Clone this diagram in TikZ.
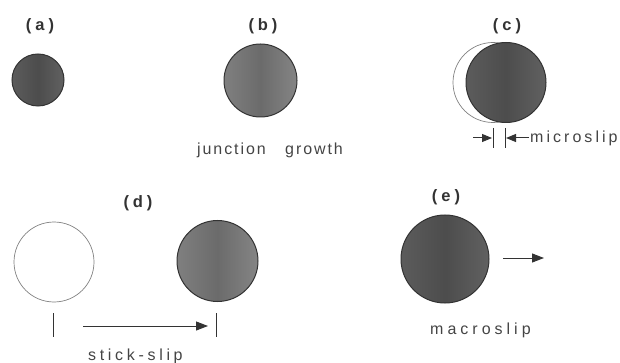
\documentclass[tikz,border=0pt]{standalone}
\usepackage{fontspec}
\setmainfont{Liberation Sans}
\usetikzlibrary{arrows.meta}
\definecolor{ink}{HTML}{333333}
\definecolor{txt}{HTML}{444444}
\tikzset{
  contact/.style={circle, draw=ink, line width=1pt, inner sep=0pt, minimum size=#1},
  ghost/.style={circle, draw=black!50, line width=0.7pt, inner sep=0pt, minimum size=#1},
  tag/.style={font=\fontsize{16.5}{16.5}\selectfont\bfseries\addfontfeature{LetterSpace=24}, text=ink, inner sep=0pt},
  caption/.style={font=\fontsize{16}{16}\selectfont\addfontfeature{LetterSpace=#1}, text=txt, inner sep=0pt},
  caption/.default=24,
  tick/.style={draw=ink, line width=0.9pt},
  mover/.style={draw=ink, line width=1pt, -{Triangle[length=12pt,width=9pt]}},
  darkfill/.style={left color=black!64, right color=black!62, middle color=black!70},
  midfill/.style={left color=black!50, right color=black!48, middle color=black!58}
}
\begin{document}
\begin{tikzpicture}[x=1pt,y=-1pt]
\useasboundingbox (0,0) rectangle (620,363);

% (a) initial contact
\node[tag] (la) at (40,26) {(a)};
\node[contact=52pt, darkfill] (ca) at (38,80) {};

% (b) junction growth
\node[tag] (lb) at (263,26) {(b)};
\node[contact=73pt, midfill] (cb) at (260.5,80.5) {};
\node[caption=12, anchor=west] (tb1) at (197,150) {junction};
\node[caption=12, anchor=west] (tb2) at (285,150) {growth};

% (c) microslip
\node[tag] (lc) at (507,26) {(c)};
\node[ghost=80pt] (gc) at (493,82.5) {};
\node[contact=80pt, darkfill] (cc) at (506,82.5) {};
\coordinate (c1t) at (493,128); \coordinate (c1b) at (493,148);
\coordinate (c2t) at (505,128); \coordinate (c2b) at (505,148);
\draw[tick] (c1t) -- (c1b);
\draw[tick] (c2t) -- (c2b);
\coordinate (c1a) at (473,138); \coordinate (c1h) at (492,138);
\coordinate (c2a) at (529,138); \coordinate (c2h) at (506,138);
\draw[mover, -{Triangle[length=10pt,width=8pt]}] (c1a) -- (c1h);
\draw[mover, -{Triangle[length=10pt,width=8pt]}] (c2a) -- (c2h);
\node[caption=19, anchor=west] (tc) at (530,138) {microslip};

% (d) stick-slip
\node[tag] (ld) at (138,203) {(d)};
\node[ghost=80pt] (gd) at (54,262) {};
\node[contact=81pt, midfill] (cd) at (217.5,261) {};
\coordinate (d1t) at (53,313); \coordinate (d1b) at (53,337);
\coordinate (d2t) at (216,313); \coordinate (d2b) at (216,337);
\draw[tick] (d1t) -- (d1b);
\draw[tick] (d2t) -- (d2b);
\coordinate (da) at (83,326); \coordinate (dh) at (208,326);
\draw[mover] (da) -- (dh);
\node[caption=23, anchor=west] (td) at (88,356) {stick-slip};

% (e) macroslip
\node[tag] (le) at (446,197) {(e)};
\node[contact=88pt, darkfill] (ce) at (445,259) {};
\coordinate (ea) at (503,258); \coordinate (eh) at (544,258);
\draw[mover] (ea) -- (eh);
\node[caption=25, anchor=west] (te) at (430,330) {macroslip};
\end{tikzpicture}
\end{document}
